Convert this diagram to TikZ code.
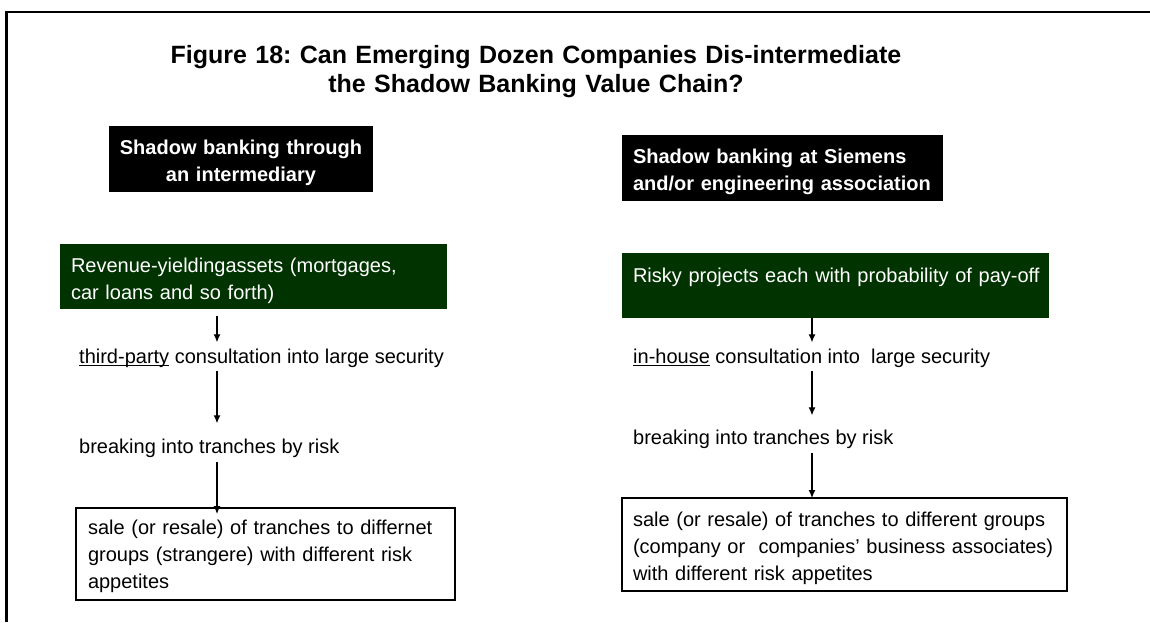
\documentclass[tikz,border=0pt]{standalone}
\usepackage{fontspec}
\setmainfont{Liberation Sans}
\usetikzlibrary{arrows.meta}
\definecolor{darkgreen}{RGB}{0,51,0}
\newcommand{\uln}[1]{\setbox0\hbox{#1}\rlap{\rule[-2.6pt]{\wd0}{1.1pt}}#1}
\frenchspacing

\begin{document}
\begin{tikzpicture}[x=1pt, y=-1pt,
    body/.style={font=\fontsize{20}{27}\selectfont},
    box/.style={body, anchor=north west, inner xsep=11pt, inner ysep=0pt, outer sep=0pt, align=left},
    headbox/.style={box, font=\fontsize{20}{27}\selectfont\bfseries, fill=black, text=white},
    greenbox/.style={box, fill=darkgreen, text=white},
    salebox/.style={box, draw=black, line width=1.2pt},
    stage/.style={body, anchor=base west, inner sep=0pt},
    arr/.style={-{Latex[length=8pt,width=7pt]}, line width=1.2pt}]
    \useasboundingbox (0,0) rectangle (1150,622);

    % Frame
    \draw[line width=2.6pt] (6.5,622) -- (6.5,12) -- (1150,12);

    % Title
    \node[anchor=north, align=center, text width=900pt, inner sep=0pt,
          text height=23pt, font=\fontsize{25}{29}\selectfont\bfseries] (title) at (536,40)
        {Figure 18: Can Emerging Dozen Companies Dis-intermediate\\the Shadow Banking Value Chain?};

    % Left column: through an intermediary
    \node[headbox, align=center, inner xsep=8pt, text width=248pt, text height=28pt, text depth=38pt] (headL) at (109,126)
        {Shadow banking through\\an intermediary};
    \node[greenbox, text width=365pt, text height=28pt, text depth=37pt] (greenL) at (60,244)
        {Revenue-yieldingassets (mortgages,\\car loans and so forth)};
    \node[stage] (consL) at (79,363) {\uln{third-party} consultation into large security};
    \node[stage] (breakL) at (79,453) {breaking into tranches by risk};
    \node[salebox, inner xsep=12pt, text width=355pt, text height=26pt, text depth=66pt] (saleL) at (76,508)
        {sale (or resale) of tranches to differnet\\groups (strangere) with different risk\\appetites};

    % Right column: at Siemens
    \node[headbox, text width=299pt, text height=28pt, text depth=38pt] (headR) at (622,135)
        {Shadow banking at Siemens\\and/or engineering association};
    \node[greenbox, text width=405pt, text height=29pt, text depth=36pt] (greenR) at (622,253)
        {\mbox{Risky projects each with probability of pay-off}};
    \node[stage] (consR) at (633,363) {\uln{in-house} consultation into\ \ large security};
    \node[stage] (breakR) at (633,444) {breaking into tranches by risk};
    \node[salebox, text width=423pt, text height=28pt, text depth=65pt] (saleR) at (622,498)
        {sale (or resale) of tranches to different groups\\(company or\ \ companies’ business associates)\\with different risk appetites};

    % Arrows down each column
    \coordinate (colL) at (217,0);
    \coordinate (colR) at (812,0);
    \foreach \src/\dst/\col/\sa/\sb in {greenL/consL/colL/7/6, consL/breakL/colL/4/15, breakL/saleL/colL/5/-6,
                                      greenR/consR/colR/0/6, consR/breakR/colR/4/14, breakR/saleR/colR/5/0} {
        \draw[arr, shorten <=\sa pt, shorten >=\sb pt] (\src.south -| \col) -- (\dst.north -| \col);
    }
\end{tikzpicture}
\end{document}
